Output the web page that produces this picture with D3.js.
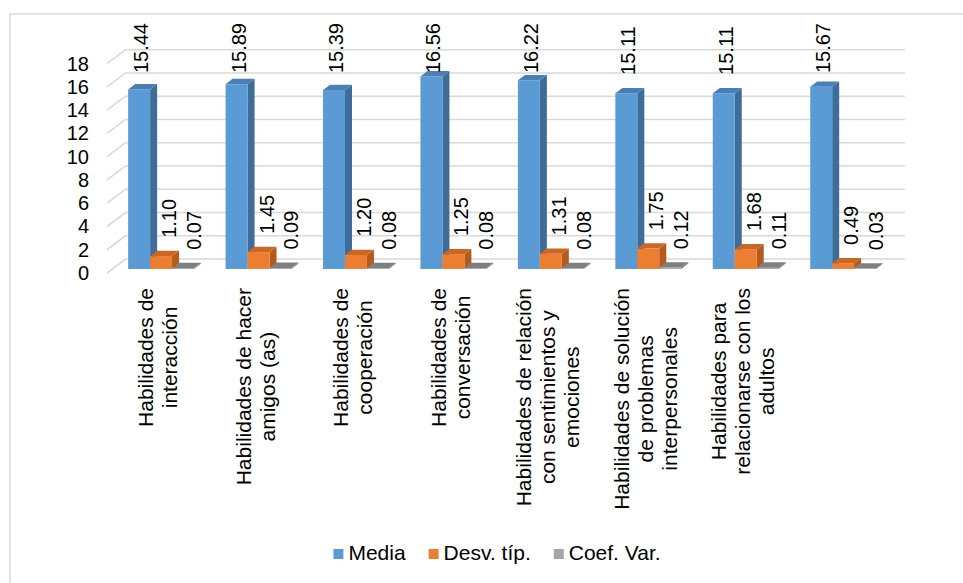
<!DOCTYPE html>
<html>
<head>
<meta charset="utf-8">
<script src="https://cdn.jsdelivr.net/npm/d3@7"></script>
<style>
  body { margin: 0; background: #fff; }
  svg { display: block; }
  text { font-family: "Liberation Sans", Arial, sans-serif; fill: #000; }
</style>
</head>
<body>
<svg id="chart" width="963" height="583"></svg>
<script>
// Category labels, one entry per line of the wrapped label
const categories = [
  ["Habilidades de", "interacción"],
  ["Habilidades de hacer", "amigos (as)"],
  ["Habilidades de", "cooperación"],
  ["Habilidades de", "conversación"],
  ["Habilidades de relación", "con sentimientos y", "emociones"],
  ["Habilidades de solución", "de problemas", "interpersonales"],
  ["Habilidades para", "relacionarse con los", "adultos"],
  [""]
];
const seriesNames = ["Media", "Desv. típ.", "Coef. Var."];
const media = [15.44, 15.89, 15.39, 16.56, 16.22, 15.11, 15.11, 15.67];
const desv  = [1.10, 1.45, 1.20, 1.25, 1.31, 1.75, 1.68, 0.49];
const coef  = [0.07, 0.09, 0.08, 0.08, 0.08, 0.12, 0.11, 0.03];
const yTicks = [0, 2, 4, 6, 8, 10, 12, 14, 16, 18];

const seriesValues = [media, desv, coef];
const palette = [
  { front: "#5B9BD5", side: "#3F6D99", top: "#4A7FB6" },
  { front: "#ED7D31", side: "#B45A1C", top: "#CC6623" },
  { front: "#A5A5A5", side: "#7A7A7A", top: "#7F7F7F" }
];

const svg = d3.select("#chart");

// chart frame
svg.append("rect")
  .attr("x", 10).attr("y", 14).attr("width", 1000).attr("height", 1000)
  .attr("fill", "none").attr("stroke", "#d9d9d9").attr("stroke-width", 1.5);

// 3D projection: depth vector of the floor
const DX = 18.5, DY = 14;
const barF0 = 0.29, barF1 = 0.67;   // bar front / back depth fraction

const catIdx = d3.range(categories.length);
const x0 = d3.scaleBand().domain(catIdx).range([107, 886.5])
  .paddingInner(0.324).paddingOuter(0.162);
const x1 = d3.scaleBand().domain(d3.range(seriesNames.length)).range([0, x0.bandwidth()]);
const y = d3.scaleLinear().domain([0, 18]).range([273, 63.7]);

const proj = (px, v, f) => [px + f * DX, y(v) - f * DY];

// walls: back gridlines and side-wall diagonals
const grid = svg.append("g").attr("stroke", "#d9d9d9").attr("stroke-width", 1.6).attr("fill", "none");
yTicks.forEach(t => {
  const a = proj(107, t, 0), b = proj(107, t, 1), c = proj(886.5, t, 1);
  grid.append("path").attr("d", `M${a[0]},${a[1]}L${b[0]},${b[1]}L${c[0]},${c[1]}`);
});

// y axis labels
const fs = 20;
svg.append("g").selectAll("text").data(yTicks).join("text")
  .attr("x", 89).attr("y", d => y(d)).attr("dy", "0.35em")
  .attr("text-anchor", "end").attr("font-size", fs)
  .text(d => d);

// bars
const bars = svg.append("g");
const labels = svg.append("g");
const labelShift = [2, 8, 11];
catIdx.forEach(i => {
  seriesValues.forEach((vals, s) => {
    const v = vals[i];
    const xl = x0(i) + x1(s), xr = xl + x1.bandwidth();
    const fl0 = proj(xl, 0, barF0), fr0 = proj(xr, 0, barF0);
    const flt = proj(xl, v, barF0), frt = proj(xr, v, barF0);
    const br0 = proj(xr, 0, barF1), blt = proj(xl, v, barF1), brt = proj(xr, v, barF1);
    const col = palette[s];
    // side face
    bars.append("path")
      .attr("d", `M${fr0}L${br0}L${brt}L${frt}Z`)
      .attr("fill", col.side);
    // front face
    bars.append("path")
      .attr("d", `M${fl0}L${fr0}L${frt}L${flt}Z`)
      .attr("fill", col.front);
    // top face
    bars.append("path")
      .attr("d", `M${flt}L${frt}L${brt}L${blt}Z`)
      .attr("fill", col.top);

    // value label, rotated, kept inside the chart area
    const t = labels.append("text")
      .attr("font-size", fs).attr("text-anchor", "start").attr("dy", "0.35em")
      .text(v.toFixed(2));
    const tw = t.node().getComputedTextLength();
    const lx = (xl + xr) / 2 + barF0 * DX + labelShift[s];
    const ly = Math.max(brt[1] - 13, 23 + tw);
    t.attr("transform", `translate(${lx},${ly}) rotate(-90)`);
  });
});

// category labels, rotated, lines centred, top aligned
const catFs = 21, lineH = 24;
catIdx.forEach(i => {
  const lines = categories[i];
  const cx = x0(i) + x0.bandwidth() / 2 + barF0 * DX - 3;
  const g = svg.append("g").attr("transform", `translate(${cx},288) rotate(-90)`);
  const ts = lines.map((ln, k) => g.append("text")
    .attr("font-size", catFs).attr("text-anchor", "middle").attr("dy", "0.35em")
    .attr("y", (k - (lines.length - 1) / 2) * lineH)
    .text(ln));
  const maxW = d3.max(ts, t => t.node().getComputedTextLength());
  ts.forEach(t => t.attr("x", -maxW / 2));
});

// legend
const legend = svg.append("g");
let lx = 0;
seriesNames.forEach((name, s) => {
  const g = legend.append("g");
  g.append("rect").attr("x", 0).attr("y", -11).attr("width", 10).attr("height", 10)
    .attr("fill", palette[s].front);
  const t = g.append("text").attr("x", 15).attr("y", 0).attr("font-size", catFs).text(name);
  const w = 15 + t.node().getComputedTextLength();
  g.attr("transform", `translate(${lx},0)`);
  lx += w + 23;
});
const legendW = lx - 23;
legend.attr("transform", `translate(${497 - legendW / 2},560)`);
</script>
</body>
</html>
